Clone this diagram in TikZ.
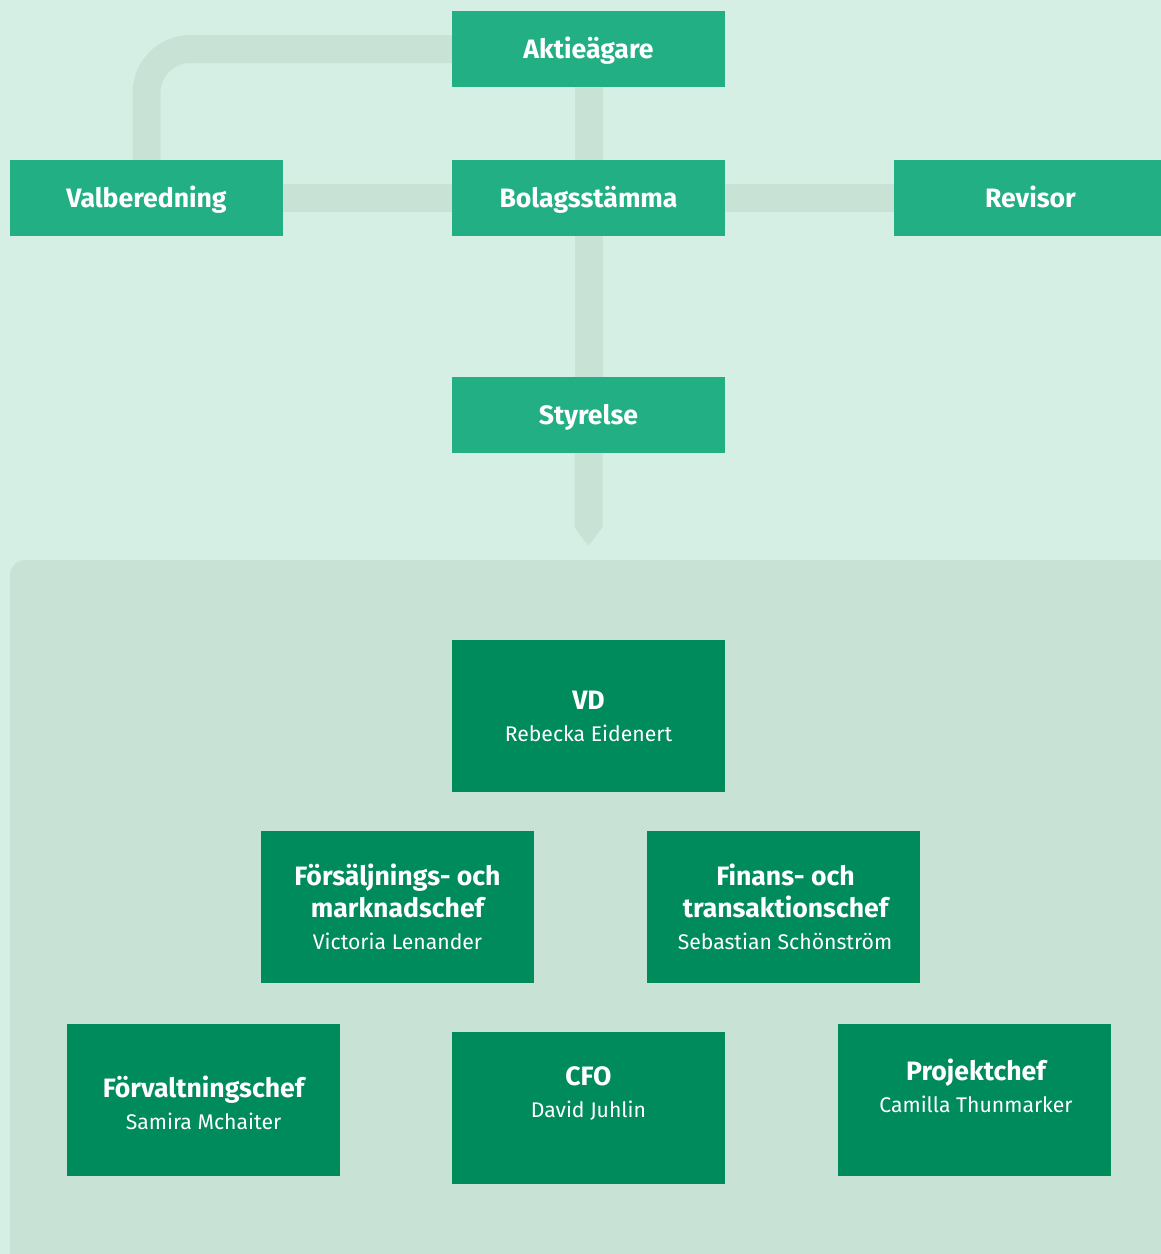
\documentclass[tikz,border=0pt]{standalone}
\usepackage{fontspec}
\setmainfont{Fira Sans}
\usetikzlibrary{backgrounds,calc}
\definecolor{bgc}{HTML}{D5EFE5}
\definecolor{pathc}{HTML}{C8E3D6}
\definecolor{boxlight}{HTML}{23AF84}
\definecolor{boxdark}{HTML}{008B5D}
\newcommand{\ttl}{\fontsize{26.6}{32}\selectfont\bfseries}
\newcommand{\nm}{\fontsize{21.2}{24}\selectfont}
\tikzset{
  topbox/.style={rectangle, fill=boxlight, draw=none, inner sep=0pt,
    minimum width=273pt, minimum height=76pt, text=white,
    text height=18pt, text depth=0pt, font=\ttl},
  darkbox/.style={rectangle, fill=boxdark, draw=none, inner sep=0pt,
    minimum width=273pt, minimum height=152pt},
  ttext/.style={anchor=base, text=white, inner sep=0pt, font=\ttl},
  ntext/.style={anchor=base, text=white, inner sep=0pt, font=\nm},
  conn/.style={draw=pathc, line width=28pt},
}
\begin{document}
\begin{tikzpicture}[x=1pt,y=-1pt]
\useasboundingbox (0,0) rectangle (1161,1254);
% boxes
\node[topbox] (aktie) at (588.5,49) {Aktieägare};
\node[topbox] (valb) at (146.5,198) {Valberedning};
\node[topbox] (bolag) at (588.5,198) {Bolagsstämma};
\node[topbox] (revisor) at (1030.5,198) {Revisor};
\node[topbox] (styrelse) at (588.5,415) {Styrelse};
\coordinate (arrowtip) at (588.5,546);

\node[darkbox] (vd) at (588.5,716) {};
\node[ttext] (vdt) at (588.5,709) {VD};
\node[ntext] (vdn) at (588.5,741) {Rebecka Eidenert};

\node[darkbox] (fsm) at (397.5,907) {};
\node[ttext] (fsmt1) at (397.5,885) {Försäljnings- och};
\node[ttext] (fsmt2) at (397.5,917) {marknadschef};
\node[ntext] (fsmn) at (397.5,949) {Victoria Lenander};

\node[darkbox] (fin) at (783.5,907) {};
\node[ttext] (fint1) at (785.5,885) {Finans- och};
\node[ttext] (fint2) at (785.5,917) {transaktionschef};
\node[ntext] (finn) at (785,949) {Sebastian Schönström};

\node[darkbox] (forv) at (203.5,1100) {};
\node[ttext] (forvt) at (203.5,1097) {Förvaltningschef};
\node[ntext] (forvn) at (203.5,1129) {Samira Mchaiter};

\node[darkbox] (cfo) at (588.5,1108) {};
\node[ttext] (cfot) at (588.5,1085) {CFO};
\node[ntext] (cfon) at (588.5,1117) {David Juhlin};

\node[darkbox] (proj) at (974.5,1100) {};
\node[ttext] (projt) at (976,1080) {Projektchef};
\node[ntext] (projn) at (976,1112) {Camilla Thunmarker};

\begin{pgfonlayer}{background}
  \fill[bgc] (0,0) rectangle (1161,1254);
  \fill[pathc, rounded corners=15pt] (10,560) rectangle (1200,1300);
  \draw[conn, rounded corners=44pt] (aktie.west) -| (valb.north);
  \draw[conn] (valb.east) -- (bolag.west);
  \draw[conn] (bolag.east) -- (revisor.west);
  \draw[conn] (aktie.south) -- (bolag.north);
  \draw[conn] (bolag.south) -- (styrelse.north);
  \fill[pathc] ($(styrelse.south)+(-14,0)$) -- ($(styrelse.south)+(-14,74)$)
     -- (arrowtip) -- ($(styrelse.south)+(14,74)$) -- ($(styrelse.south)+(14,0)$) -- cycle;
\end{pgfonlayer}
\end{tikzpicture}
\end{document}
